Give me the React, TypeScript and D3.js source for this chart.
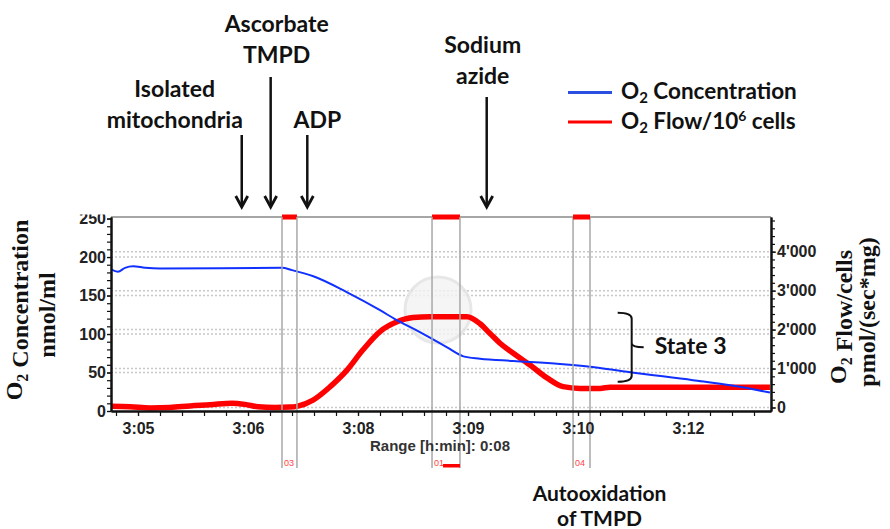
import { useEffect, useRef } from 'react'
import * as d3 from 'd3'

// x runs in "screen steps": one step per labelled tick of the recorder display
const timeTicks = [0, 1, 2, 3, 4, 5]
const timeLabels = ['3:05', '3:06', '3:08', '3:09', '3:10', '3:12']

const concTicks = [0, 50, 100, 150, 200, 250]
const flowTicks = [0, 1000, 2000, 3000, 4000]

// O2 concentration, nmol/ml
const concTime = [
  -0.245, -0.182, -0.118, -0.045, 0.064, 0.2, 1.309, 1.4, 1.594, 1.897, 2.2, 2.352, 2.503, 2.67, 2.806,
  2.958, 3.109, 3.412, 3.836, 4.2, 4.445, 5.045, 5.4, 5.745,
]
const concValues = [
  184, 181, 186, 188, 186, 185, 186, 183, 175, 154.5, 131, 118, 107, 94, 83, 71, 68, 65, 61, 56, 51, 40, 33, 24,
]

// O2 flow per 10^6 cells, pmol/(sec*mg)
const flowTime = [
  -0.245, -0.073, 0.109, 0.291, 0.473, 0.655, 0.855, 0.973, 1.091, 1.245, 1.382, 1.445, 1.591, 1.745, 1.9,
  2.045, 2.2, 2.355, 2.5, 2.655, 2.991, 3.109, 3.2, 3.291, 3.409, 3.564, 3.718, 3.864, 4.018, 4.2, 4.291, 5.745,
]
const flowValues = [
  30, 20, -10, 0, 40, 70, 110, 80, 20, 0, 10, 30, 190, 530, 960, 1480, 1950, 2200, 2310, 2330, 2330, 2150, 1900,
  1650, 1400, 1090, 760, 535, 490, 490, 520, 520,
]

const markerIds = ['03', '01', '04']
const markerStart = [1.309, 2.673, 3.955]
const markerEnd = [1.445, 2.927, 4.109]

const eventNames = [['Isolated', 'mitochondria'], ['Ascorbate', 'TMPD'], ['ADP'], ['Sodium', 'azide']]
const eventTime = [0.943, 1.206, 1.539, 3.17]

const state3Flow = [660, 2430]
const state3Time = 4.488

export default function App() {
  const ref = useRef<SVGSVGElement>(null)

  useEffect(() => {
    const el = ref.current
    if (!el) return
    const svg = d3.select(el)
    svg.selectAll('*').remove()

    const left = 111
    const right = 771
    const top = 217
    const bottom = 411
    const tickFont = '"Liberation Sans", Arial, sans-serif'
    const noteFont = 'Lato, "Open Sans", sans-serif'
    const titleFont = '"Liberation Serif", "Times New Roman", serif'

    const x = d3.scaleLinear().domain([-0.2455, 5.7545]).range([left, right])
    const yL = d3.scaleLinear().domain([0, 252]).range([bottom, top])
    const yR = d3.scaleLinear().domain([-90, 4890]).range([bottom, top])

    svg.append('rect').attr('width', 890).attr('height', 529).attr('fill', '#fff')

    // dotted grid, one set per axis
    const grid = svg.append('g')
    const gridRows = [
      ...concTicks.filter((d) => d > 0 && d < 250).map((d) => yL(d)),
      ...flowTicks.map((d) => yR(d)),
    ]
    grid
      .selectAll('line')
      .data(gridRows)
      .join('line')
      .attr('x1', left)
      .attr('x2', right)
      .attr('y1', (d) => d)
      .attr('y2', (d) => d)
      .attr('stroke', '#c8c8c8')
      .attr('stroke-width', 1.5)
      .attr('stroke-dasharray', '2,2')

    // faint watermark
    svg
      .append('circle')
      .attr('cx', 438)
      .attr('cy', 310)
      .attr('r', 33)
      .attr('fill', '#f3f3f3')
      .attr('stroke', '#e2e2e2')
      .attr('stroke-width', 3)
      .attr('opacity', 0.8)

    // event markers
    const mk = svg.append('g')
    markerIds.forEach((id, i) => {
      const a = x(markerStart[i])
      const b = x(markerEnd[i])
      ;[a, b].forEach((xx) =>
        mk
          .append('line')
          .attr('x1', xx)
          .attr('x2', xx)
          .attr('y1', top)
          .attr('y2', 468)
          .attr('stroke', '#a8a8a8')
          .attr('stroke-width', 1.5),
      )
      mk.append('text')
        .attr('x', a + 2)
        .attr('y', 466)
        .attr('fill', '#f44')
        .attr('font-family', tickFont)
        .attr('font-size', 9)
        .text(id)
      if (id === '01') {
        mk.append('rect').attr('x', a + 11).attr('y', 464).attr('width', b - a - 11).attr('height', 3.5).attr('fill', '#f00')
      }
    })

    // lines
    const concLine = d3
      .line<number>()
      .x((_, i) => x(concTime[i]))
      .y((d) => yL(d))
      .curve(d3.curveMonotoneX)
    const flowLine = d3
      .line<number>()
      .x((_, i) => x(flowTime[i]))
      .y((d) => yR(d))
      .curve(d3.curveMonotoneX)

    svg.append('path').attr('d', flowLine(flowValues)).attr('fill', 'none').attr('stroke', '#f00').attr('stroke-width', 5.5)
    svg.append('path').attr('d', concLine(concValues)).attr('fill', 'none').attr('stroke', '#1030ff').attr('stroke-width', 2)

    // frame top
    svg.append('line').attr('x1', left).attr('x2', right).attr('y1', top).attr('y2', top).attr('stroke', '#888').attr('stroke-width', 1.5)
    markerIds.forEach((_, i) => {
      const a = x(markerStart[i])
      const b = x(markerEnd[i])
      mk.raise()
      svg.append('rect').attr('x', a).attr('y', top - 2.5).attr('width', b - a).attr('height', 5).attr('fill', '#f00')
    })

    const styleAxis = (g: d3.Selection<SVGGElement, unknown, null, undefined>) => {
      g.select('.domain').attr('stroke', '#111').attr('stroke-width', 2)
      g.selectAll('.tick line').attr('stroke', '#111').attr('stroke-width', 1.2)
      g.selectAll('text').attr('fill', '#222').attr('font-family', tickFont).attr('font-weight', 'bold')
    }

    // left axis
    const gl = svg.append('g').attr('transform', `translate(${left},0)`)
    gl.call(d3.axisLeft(yL).tickValues(d3.range(0, 251, 10)).tickSize(4).tickSizeOuter(0).tickFormat(() => ''))
    const glab = svg.append('g').attr('transform', `translate(${left},0)`)
    glab.call(d3.axisLeft(yL).tickValues(concTicks).tickSize(4).tickPadding(1).tickSizeOuter(0))
    styleAxis(gl)
    styleAxis(glab)
    glab.selectAll('text').attr('font-size', 16)
    svg.append('rect').attr('x', 60).attr('y', 196).attr('width', 50).attr('height', 18.5).attr('fill', '#fff')

    // right axis
    const gr = svg.append('g').attr('transform', `translate(${right},0)`)
    gr.call(d3.axisRight(yR).tickValues(d3.range(0, 4801, 200)).tickSize(4).tickSizeOuter(0).tickFormat(() => ''))
    const grl = svg.append('g').attr('transform', `translate(${right},0)`)
    grl.call(
      d3
        .axisRight(yR)
        .tickValues(flowTicks)
        .tickSize(5)
        .tickPadding(1)
        .tickSizeOuter(0)
        .tickFormat((d) => d3.format(',')(Number(d)).replace(/,/g, "'")),
    )
    styleAxis(gr)
    styleAxis(grl)
    grl.selectAll('text').attr('font-size', 16)

    // bottom axis
    const gb = svg.append('g').attr('transform', `translate(0,${bottom})`)
    gb.call(
      d3
        .axisBottom(x)
        .tickValues(d3.range(-0.2, 5.75, 0.2))
        .tickSize(5)
        .tickSizeOuter(0)
        .tickFormat(() => ''),
    )
    const gbl = svg.append('g').attr('transform', `translate(0,${bottom})`)
    gbl.call(
      d3
        .axisBottom(x)
        .tickValues(timeTicks)
        .tickSize(5)
        .tickPadding(7)
        .tickSizeOuter(0)
        .tickFormat((_, i) => timeLabels[i]),
    )
    styleAxis(gb)
    styleAxis(gbl)
    gbl.selectAll('text').attr('font-size', 16)

    svg
      .append('text')
      .attr('x', 440)
      .attr('y', 451)
      .attr('text-anchor', 'middle')
      .attr('font-family', tickFont)
      .attr('font-weight', 'bold')
      .attr('font-size', 15)
      .attr('fill', '#333')
      .text('Range [h:min]: 0:08')

    // axis titles
    const title = (tx: number, ty: number, parts: [string, boolean][]) => {
      const t = svg
        .append('text')
        .attr('transform', `translate(${tx},${ty}) rotate(-90)`)
        .attr('text-anchor', 'middle')
        .attr('dy', '0.35em')
        .attr('font-family', titleFont)
        .attr('font-weight', 'bold')
        .attr('font-size', 24)
        .attr('fill', '#111')
      parts.forEach(([s, sub]) => {
        t.append('tspan')
          .attr('font-size', sub ? 16 : 24)
          .attr('dy', sub ? 6 : 0)
          .text(s)
        if (sub) t.append('tspan').attr('dy', -6).text('')
      })
    }
    title(22, 310, [['O', false], ['2', true], [' Concentration', false]])
    title(55, 315, [['nmol/ml', false]])
    title(846, 317, [['O', false], ['2', true], [' Flow/cells', false]])
    title(875, 312, [['pmol/(sec*mg)', false]])

    // legend
    const legend = svg.append('g').attr('font-family', noteFont).attr('font-weight', 700).attr('font-size', 22.5).attr('fill', '#111')
    legend.append('line').attr('x1', 568).attr('x2', 612).attr('y1', 92.5).attr('y2', 92.5).attr('stroke', '#2b4fe0').attr('stroke-width', 3)
    legend.append('line').attr('x1', 568).attr('x2', 612).attr('y1', 122).attr('y2', 122).attr('stroke', '#f00').attr('stroke-width', 3)
    const l1 = legend.append('text').attr('x', 621).attr('y', 99)
    l1.append('tspan').text('O')
    l1.append('tspan').attr('font-size', 15).attr('dy', 4).text('2')
    l1.append('tspan').attr('dy', -4).text(' Concentration')
    const l2 = legend.append('text').attr('x', 621).attr('y', 129)
    l2.append('tspan').text('O')
    l2.append('tspan').attr('font-size', 15).attr('dy', 4).text('2')
    l2.append('tspan').attr('dy', -4).text(' Flow/10')
    l2.append('tspan').attr('font-size', 14).attr('dy', -8).text('6')
    l2.append('tspan').attr('dy', 8).text(' cells')

    // additions: label offset from arrow, first baseline, arrow start
    const layout = [
      { dx: -67, y0: 97, a0: 135 },
      { dx: 6, y0: 32, a0: 77 },
      { dx: 10, y0: 128, a0: 135 },
      { dx: -4, y0: 53, a0: 97 },
    ]
    const notes = svg.append('g').attr('font-family', noteFont).attr('font-weight', 700).attr('font-size', 23).attr('fill', '#111')
    eventNames.forEach((lines, i) => {
      const ax = x(eventTime[i])
      const L = layout[i]
      lines.forEach((s, j) =>
        notes
          .append('text')
          .attr('x', ax + L.dx)
          .attr('y', L.y0 + j * 31)
          .attr('text-anchor', 'middle')
          .text(s),
      )
      notes.append('line').attr('x1', ax).attr('x2', ax).attr('y1', L.a0).attr('y2', 206).attr('stroke', '#111').attr('stroke-width', 2.5)
      notes
        .append('path')
        .attr('d', `M${ax - 6},196 L${ax},207 L${ax + 6},196`)
        .attr('fill', 'none')
        .attr('stroke', '#111')
        .attr('stroke-width', 2.8)
    })

    // autooxidation note under marker 04
    const m4 = (x(markerStart[2]) + x(markerEnd[2])) / 2 + 18
    ;['Autooxidation', 'of TMPD'].forEach((s, j) =>
      notes.append('text').attr('x', m4).attr('y', 501 + j * 25).attr('font-size', 21).attr('text-anchor', 'middle').text(s),
    )

    // State 3 bracket
    const bx = x(state3Time)
    const b0 = yR(state3Flow[1])
    const b1 = yR(state3Flow[0])
    const bm = (b0 + b1) / 2
    svg
      .append('path')
      .attr(
        'd',
        `M${bx - 14},${b0} Q${bx},${b0} ${bx},${b0 + 6} L${bx},${bm - 4} Q${bx},${bm} ${bx + 12},${bm} ` +
          `M${bx},${bm - 4} Q${bx},${bm} ${bx},${bm + 4} L${bx},${b1 - 6} Q${bx},${b1} ${bx - 14},${b1}`,
      )
      .attr('fill', 'none')
      .attr('stroke', '#111')
      .attr('stroke-width', 2)
    notes.append('text').attr('x', bx + 23).attr('y', bm + 7).text('State 3')
  }, [])

  return <svg ref={ref} width={890} height={529} style={{ position: 'absolute', left: 0, top: 0 }} />
}
